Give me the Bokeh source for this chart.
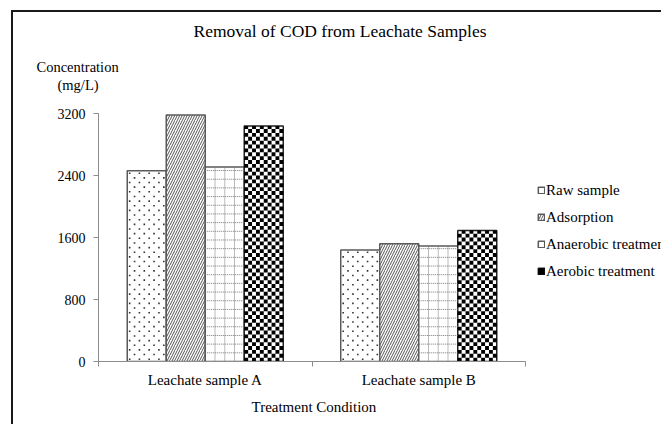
import math
from bokeh.plotting import figure
from bokeh.models import (FixedTicker, Legend, LegendItem, ColumnDataSource, Range1d, Title)
from bokeh.transform import dodge
from bokeh.embed import file_html
from bokeh.resources import INLINE

# ---------------- data ----------------
title_text = "Removal  of COD from  Leachate  Samples"
categories = ["Leachate sample A", "Leachate sample B"]
series_names = ["Raw sample", "Adsorption", "Anaerobic treatment", "Aerobic treatment"]
raw_sample = [2460, 1440]
adsorption = [3180, 1520]
anaerobic = [2510, 1490]
aerobic = [3040, 1690]
y_ticks = [0, 800, 1600, 2400, 3200]
x_title = "Treatment Condition"
y_title_1 = "Concentration"
y_title_2 = "(mg/L)"

FONT = "Liberation Serif"
INK = "black"

# layout constants (pixels)
W, H = 661, 424
LEFT, TOP, BOTTOM = 98, 113, 63
CAT_SPAN = 427          # pixel width of the category axis
FRAME_W = W - LEFT

src = ColumnDataSource(data=dict(
    x=[i + 0.5 for i in range(len(categories))],
    raw=raw_sample, ads=adsorption, ana=anaerobic, aer=aerobic,
))

n_cat = len(categories)
p = figure(width=W, height=H,
           x_range=Range1d(0, n_cat * FRAME_W / CAT_SPAN),
           y_range=Range1d(y_ticks[0], y_ticks[-1]), title=None,
           output_backend="svg", toolbar_location=None,
           min_border_left=LEFT, min_border_right=0,
           min_border_top=TOP, min_border_bottom=BOTTOM)
# transparent canvas; the picture's outer frame (left and top edges) drawn behind it
p.border_fill_color = None
p.background_fill_color = None
LINE = "linear-gradient(#1a1a1a, #1a1a1a)"
p.styles = {
    "background-image": f"{LINE}, {LINE}",
    "background-size": "2px 100%, 100% 2px",
    "background-position": "11px 10px, 11px 10px",
    "background-repeat": "no-repeat",
}


def title(text, offset, size, standoff):
    return Title(text=text, align="left", offset=offset, text_font=FONT,
                 text_font_size=size, text_font_style="normal", text_color=INK,
                 standoff=standoff)


# stacked titles above the frame (first added is nearest to the frame)
p.add_layout(title(" ", 0, "14.5px", 3), "above")          # spacer
p.add_layout(title(y_title_2, -41, "14.5px", 0), "above")
p.add_layout(title(y_title_1, -62, "14.5px", 0), "above")
p.add_layout(title(title_text, 95, "17.5px", 32), "above")
# x axis title below the axis, centred under the category span
p.add_layout(title(x_title, 153, "15px", 12), "below")

p.xgrid.visible = False
p.ygrid.visible = False
p.outline_line_color = None

w = 0.1827
styles = [
    dict(field="raw", line_color="#5a5a5a"),
    dict(field="ads", hatch_pattern="right_diagonal_line", hatch_color="#555555",
         hatch_scale=5, hatch_weight=1, line_color="#5a5a5a"),
    dict(field="ana", line_color="#5a5a5a"),
    dict(field="aer", line_color="#222222"),
]
items = []
for j, (name, st) in enumerate(zip(series_names, styles)):
    st = dict(st)
    field = st.pop("field")
    r = p.vbar(x=dodge("x", (j - 1.5) * w, range=p.x_range), top=field, width=w,
               source=src, fill_color="white", line_width=1.5, **st)
    items.append(LegendItem(label=name, renderers=[r]))


def bar_left(i, j):
    return i + 0.5 + (j - 1.5) * w - w / 2


# dotted texture for the raw-sample bars (staggered dots inside each bar)
dx, dy = w / 4, 60.0
px_, py_ = [], []
for i, val in enumerate(raw_sample):
    left = bar_left(i, 0)
    for rr in range(int(val // dy)):
        shift = (rr % 2) * dx / 2
        for cc in range(4):
            px_.append(left + dx / 4 + shift + cc * dx)
            py_.append(rr * dy + dy / 2)
p.scatter(px_, py_, marker="square", size=1.6, color="#333333", line_color=None)

# dotted grid texture for the anaerobic bars
gx0, gx1, gy0, gy1 = [], [], [], []
for i, val in enumerate(anaerobic):
    left = bar_left(i, 2)
    for k in range(1, 4):
        gx0.append(left + k * w / 4); gx1.append(left + k * w / 4)
        gy0.append(0); gy1.append(val)
    for rr in range(1, int(val // 112) + 1):
        gx0.append(left); gx1.append(left + w)
        gy0.append(rr * 112); gy1.append(rr * 112)
p.segment(gx0, gy0, gx1, gy1, line_color="#777777", line_width=1, line_dash="1 1")

# checkerboard texture for the aerobic bars (cells derived from the bar extents)
n_cols = 10
cw = w / n_cols
ch = 50.0
ql, qr, qb, qt = [], [], [], []
for i, val in enumerate(aerobic):
    left = bar_left(i, 3)
    for rr in range(int(math.ceil(val / ch))):
        for cc in range(n_cols):
            if (rr + cc) % 2 == 0:
                ql.append(left + cc * cw)
                qr.append(left + (cc + 1) * cw)
                qb.append(rr * ch)
                qt.append(min((rr + 1) * ch, val))
q_r = p.quad(left=ql, right=qr, bottom=qb, top=qt, fill_color="black", line_color=None)
items[3].renderers.append(q_r)

legend = Legend(items=items, location=(439, 80), padding=0, margin=0, spacing=7,
                glyph_width=8, glyph_height=8, label_standoff=1,
                border_line_color=None, background_fill_alpha=0,
                label_text_font=FONT, label_text_font_size="15px",
                label_text_color=INK, label_height=20)
p.add_layout(legend)

yax = p.yaxis[0]
yax.ticker = FixedTicker(ticks=y_ticks)
yax.axis_line_color = "#8c8c8c"
yax.major_tick_line_color = "#8c8c8c"
yax.major_tick_out = 5
yax.major_tick_in = 0
yax.minor_tick_line_color = None
yax.major_label_text_font = FONT
yax.major_label_text_font_size = "14px"
yax.major_label_text_color = INK
yax.major_label_standoff = 8

xax = p.xaxis[0]
xax.bounds = (0, n_cat)
xax.ticker = FixedTicker(ticks=[i + 0.5 for i in range(n_cat)],
                         minor_ticks=list(range(n_cat + 1)))
xax.major_label_overrides = {i + 0.5: c for i, c in enumerate(categories)}
xax.axis_line_color = "#8c8c8c"
xax.major_tick_out = 0
xax.major_tick_in = 0
xax.minor_tick_line_color = "#8c8c8c"
xax.minor_tick_out = 5
xax.minor_tick_in = 0
xax.major_label_text_font = FONT
xax.major_label_text_font_size = "15px"
xax.major_label_text_color = INK
xax.major_label_standoff = 5

open("out.html", "w").write(file_html(p, INLINE))
